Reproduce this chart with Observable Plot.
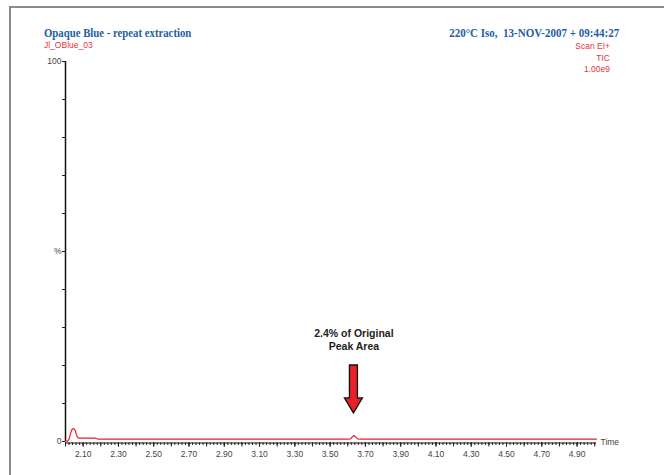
<!DOCTYPE html>
<html><head><meta charset="utf-8">
<script src="https://cdn.jsdelivr.net/npm/d3@7"></script>
<script src="https://cdn.jsdelivr.net/npm/@observablehq/plot@0.6"></script>
<style>
body{margin:0;background:#fff;}
#wrap{position:relative;width:664px;height:475px;overflow:hidden;background:#fff;}
#frame{position:absolute;left:9px;top:6px;width:700px;height:600px;border-top:2px solid #8c8c8c;border-left:2px solid #8c8c8c;}
.t{position:absolute;white-space:pre;line-height:1;}
.blue{font-family:"Liberation Serif","Times New Roman",serif;font-weight:bold;color:#1f5ea6;font-size:12.5px;}
.red{font-family:"Liberation Sans Narrow","Arial Narrow","Liberation Sans",Arial,sans-serif;color:#e8323c;font-size:8.5px;}
#chart{position:absolute;left:0;top:0;}
</style></head>
<body>
<div id="wrap">
  <div id="frame"></div>
  <div id="chart"></div>
  <div class="t blue" id="title" style="left:44px;top:27px;transform:scaleX(0.86);transform-origin:left center;"></div>
  <div class="t red" id="sub" style="left:44px;top:41px;"></div>
  <div class="t blue" id="rtitle" style="right:45px;top:27px;text-align:right;transform:scaleX(0.88);transform-origin:right center;"></div>
  <div class="t red" id="rsub" style="right:54px;top:41px;text-align:right;line-height:11.5px;"></div>
</div>
<script>
// ---- header texts ----
const titleLeft = "Opaque Blue - repeat extraction";
const sampleName = "Jl_OBlue_03";
const titleRight = "220°C Iso,  13-NOV-2007 + 09:44:27";
const scanInfo = ["Scan EI+", "TIC", "1.00e9"];

// ---- chromatogram trace (time, % intensity) ----
const time = [2.000, 2.012, 2.020, 2.028, 2.036, 2.043, 2.050, 2.056, 2.062, 2.068, 2.075, 2.085, 2.100, 2.130, 2.160, 2.175, 2.185, 2.300, 2.600, 3.000, 3.400, 3.600, 3.615, 3.625, 3.635, 3.645, 3.655, 3.670, 3.800, 4.200, 4.600, 5.010];
const intensity = [0.1, 0.1, 0.6, 2.0, 3.1, 3.4, 3.3, 2.8, 1.8, 1.1, 0.9, 0.9, 0.9, 0.9, 0.9, 0.8, 0.6, 0.6, 0.6, 0.6, 0.6, 0.6, 0.7, 1.2, 1.6, 1.2, 0.7, 0.6, 0.6, 0.6, 0.6, 0.6];

// ---- axes ----
const xTickLabels = [2.10, 2.30, 2.50, 2.70, 2.90, 3.10, 3.30, 3.50, 3.70, 3.90, 4.10, 4.30, 4.50, 4.70, 4.90];
const xDomain = [2.0, 5.01];
const yTickValues = [0, 50, 100];
const yTickLabels = ["0", "%", "100"];
const xAxisName = "Time";

// ---- annotation ----
const annoTime = [3.635];
const annoText = ["2.4% of Original\nPeak Area"];
const annoTextLevel = [26.8];
const arrowTop = [20];
const arrowTip = [7.4];

document.getElementById("title").textContent = titleLeft;
document.getElementById("sub").textContent = sampleName;
document.getElementById("rtitle").textContent = titleRight;
document.getElementById("rsub").innerHTML = scanInfo.join("<br>");

const trace = time.map((t, i) => ({t, v: intensity[i]}));
const minorTicks = d3.range(100, 501, 2).map(d => d / 100);
const midTicks = d3.range(20, 51, 1).map(d => d / 10);
const yMinor = d3.range(0, 101, 10);

const anno = annoTime.map((t, i) => ({t, text: annoText[i], ty: annoTextLevel[i], top: arrowTop[i], tip: arrowTip[i]}));

function arrowMark(index, scales) {
  const g = d3.create("svg:g");
  for (const a of anno) {
    const cx = scales.x(a.t), y0 = scales.y(a.top), y1 = scales.y(a.tip);
    const hw = 4, hh = 9, headH = 15;
    const yb = y1 - headH;
    const pts = [[cx - hw, y0], [cx + hw, y0], [cx + hw, yb], [cx + hh, yb], [cx, y1], [cx - hh, yb], [cx - hw, yb]];
    g.append("path")
      .attr("d", "M" + pts.map(p => p.join(",")).join("L") + "Z")
      .attr("fill", "#e8202a").attr("stroke", "#111").attr("stroke-width", 1.3).attr("stroke-linejoin", "miter");
  }
  return g.node();
}

const narrow = '"Liberation Sans Narrow","Arial Narrow","Liberation Sans",Arial,sans-serif';

const chart = Plot.plot({
  width: 664, height: 475,
  marginLeft: 65, marginRight: 68, marginTop: 61, marginBottom: 34,
  x: {domain: xDomain},
  y: {domain: [0, 100]},
  style: {fontFamily: narrow, fontSize: "8.5px", color: "#444", background: "transparent", overflow: "visible"},
  marks: [
    Plot.axisX({ticks: minorTicks.filter(d => d >= 2.0 && d <= 5.01), tickSize: 2.5, tickFormat: () => "", label: null, stroke: "#222", dy: 1.5}),
    Plot.axisX({ticks: midTicks, tickSize: 4, tickFormat: () => "", label: null, stroke: "#222", dy: 1.5}),
    Plot.axisX({ticks: xTickLabels, tickSize: 4, tickFormat: d => d.toFixed(2), label: null, stroke: "#222", tickPadding: 4, dy: 1.5, fill: "#444"}),
    Plot.axisY({ticks: yMinor, tickSize: 3, tickFormat: () => "", label: null, stroke: "#222"}),
    Plot.axisY({ticks: yTickValues, tickSize: 3, tickFormat: (d, i) => yTickLabels[yTickValues.indexOf(d)], label: null, stroke: "#222", tickPadding: 1, fill: "#444"}),
    Plot.ruleX([xDomain[0]], {stroke: "#111", strokeWidth: 1.5}),
    Plot.ruleY([0], {stroke: "#111", strokeWidth: 1.2, dy: 1.5}),
    Plot.line(trace, {x: "t", y: "v", stroke: "#e8202a", strokeWidth: 1.2}),
    Plot.text([xAxisName], {x: () => xDomain[1], y: () => 0, text: d => d, textAnchor: "start", dx: 4, dy: 1, fill: "#444"}),
    Plot.text(anno, {x: "t", y: "ty", text: "text", fontWeight: "bold", fontSize: 10.5, fill: "#222", lineHeight: 1.15, fontFamily: '"Liberation Sans",Arial,sans-serif'}),
    arrowMark
  ]
});
document.getElementById("chart").appendChild(chart);
</script>
</body></html>
